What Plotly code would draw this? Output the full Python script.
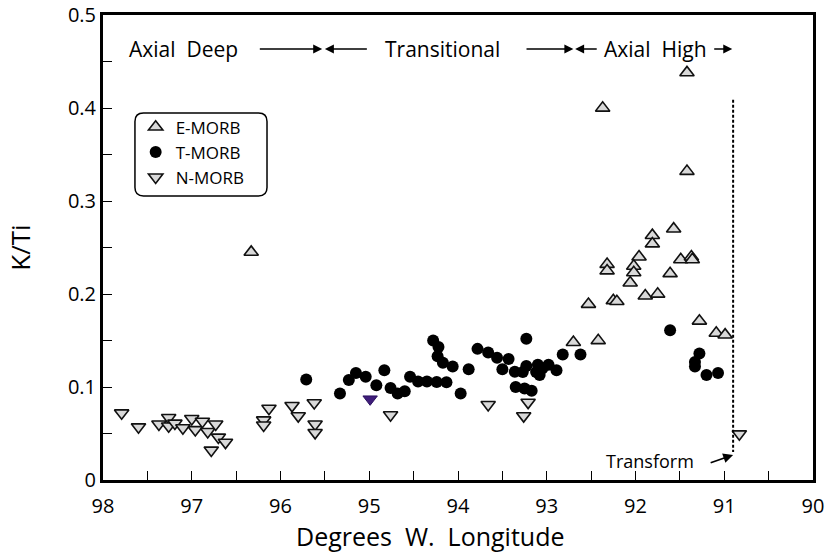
import plotly.graph_objects as go

# ---- data: longitude (degrees W) and K/Ti ratio ----
e_morb_lon = [96.33, 92.37, 91.42, 91.42, 91.57, 91.81, 91.81, 91.96, 92.02, 92.02,
              91.49, 91.37, 91.36, 92.32, 92.32, 91.61, 92.06, 91.89, 91.75, 92.25,
              92.21, 92.53, 91.28, 91.09, 90.99, 92.42, 92.70]
e_morb_kti = [0.245, 0.400, 0.438, 0.332, 0.270, 0.263, 0.254, 0.240, 0.230, 0.223,
              0.237, 0.240, 0.237, 0.232, 0.225, 0.222, 0.212, 0.198, 0.200, 0.193,
              0.192, 0.189, 0.171, 0.158, 0.156, 0.150, 0.148]

t_morb_lon = [95.71, 95.33, 95.23, 95.15, 95.04, 94.92, 94.83, 94.76, 94.68, 94.60,
              94.54, 94.45, 94.35, 94.24, 94.13, 94.28, 94.22, 94.23, 94.17, 94.06,
              93.97, 93.88, 93.78, 93.66, 93.56, 93.43, 93.50, 93.36, 93.23, 93.23,
              93.27, 93.10, 92.98, 93.08, 92.89, 93.35, 93.25, 93.17, 93.12, 93.05,
              92.82, 92.62, 91.61, 91.28, 91.33, 91.33, 91.20, 91.07]
t_morb_kti = [0.108, 0.093, 0.1075, 0.115, 0.111, 0.102, 0.118, 0.099, 0.093, 0.0955,
              0.111, 0.106, 0.106, 0.1055, 0.105, 0.150, 0.143, 0.133, 0.126, 0.122,
              0.093, 0.119, 0.141, 0.137, 0.1315, 0.130, 0.119, 0.1165, 0.152, 0.1225,
              0.116, 0.124, 0.124, 0.113, 0.118, 0.100, 0.0985, 0.096, 0.116, 0.120,
              0.135, 0.135, 0.161, 0.136, 0.127, 0.122, 0.113, 0.115]

n_morb_lon = [97.79, 97.60, 97.37, 97.26, 97.26, 97.19, 97.10, 97.00, 96.96, 96.88,
              96.82, 96.73, 96.70, 96.78, 96.62, 96.19, 96.19, 96.13, 95.87, 95.80,
              95.62, 95.61, 95.61, 94.76, 93.66, 93.21, 93.26, 90.83]
n_morb_kti = [0.072, 0.057, 0.060, 0.067, 0.058, 0.061, 0.056, 0.066, 0.054, 0.063,
              0.052, 0.060, 0.046, 0.032, 0.0405, 0.0645, 0.059, 0.077, 0.080, 0.069,
              0.083, 0.060, 0.051, 0.070, 0.081, 0.0835, 0.069, 0.0495]

# single highlighted N-MORB sample
n_morb_hl_lon = [94.99]
n_morb_hl_kti = [0.087]

# ---- axis ticks ----
x_tick_vals = [98, 97.5, 97, 96.5, 96, 95.5, 95, 94.5, 94, 93.5, 93, 92.5, 92, 91.5, 91, 90.5, 90]
x_tick_text = ["98", "", "97", "", "96", "", "95", "", "94", "", "93", "", "92", "", "91", "", "90"]
y_tick_vals = [0, 0.05, 0.1, 0.15, 0.2, 0.25, 0.3, 0.35, 0.4, 0.45, 0.5]
y_tick_text = ["0", "", "0.1", "", "0.2", "", "0.3", "", "0.4", "", "0.5"]

FONT = "Open Sans"
GRAY = "#d9d9d9"
EDGE = "#111111"

fig = go.Figure()

fig.add_trace(go.Scatter(
    x=e_morb_lon, y=e_morb_kti, mode="markers", name="E-MORB",
    marker=dict(symbol="triangle-up", size=12.5, color=GRAY, line=dict(color=EDGE, width=1.6)),
))
fig.add_trace(go.Scatter(
    x=t_morb_lon, y=t_morb_kti, mode="markers", name="T-MORB",
    marker=dict(symbol="circle", size=12, color="black", line=dict(width=0)),
))
fig.add_trace(go.Scatter(
    x=n_morb_lon, y=n_morb_kti, mode="markers", name="N-MORB",
    marker=dict(symbol="triangle-down", size=12.5, color=GRAY, line=dict(color=EDGE, width=1.6)),
))
fig.add_trace(go.Scatter(
    x=n_morb_hl_lon, y=n_morb_hl_kti, mode="markers", showlegend=False,
    marker=dict(symbol="triangle-down", size=12.5, color="#3f1d7a", line=dict(color="#2a1060", width=1)),
))

# transform boundary
fig.add_shape(type="line", xref="x", yref="y", x0=90.9, x1=90.9, y0=0.409, y1=0.03,
              line=dict(color="black", width=2, dash="3px,2px"))

# rounded legend frame (paper coordinates)
lx0, lx1, ly0, ly1 = 0.045, 0.231, 0.611, 0.789
rx, ry = 0.012, 0.018
path = (f"M{lx0+rx},{ly0} L{lx1-rx},{ly0} Q{lx1},{ly0} {lx1},{ly0+ry} "
        f"L{lx1},{ly1-ry} Q{lx1},{ly1} {lx1-rx},{ly1} L{lx0+rx},{ly1} "
        f"Q{lx0},{ly1} {lx0},{ly1-ry} L{lx0},{ly0+ry} Q{lx0},{ly0} {lx0+rx},{ly0} Z")
fig.add_shape(type="path", xref="paper", yref="paper", path=path,
              line=dict(color="black", width=1.5), fillcolor="rgba(0,0,0,0)")

annotations = []
y_lbl = 0.4634
# region labels
for txt, xc in [("Axial  Deep", 97.09), ("Transitional", 94.18), ("Axial  High", 91.77)]:
    annotations.append(dict(x=xc, y=y_lbl, xref="x", yref="y", text=txt, showarrow=False,
                            font=dict(family=FONT, size=21, color="black")))
# region arrows (head, tail)
for head, tail in [(95.53, 96.25), (95.50, 95.01), (92.70, 93.245), (92.68, 92.42), (90.91, 91.13)]:
    annotations.append(dict(x=head, y=y_lbl, ax=tail, ay=y_lbl, xref="x", yref="y",
                            axref="x", ayref="y", text="", showarrow=True,
                            arrowhead=2, arrowsize=1.2, arrowwidth=1.5, arrowcolor="black"))
# transform label and arrow
annotations.append(dict(x=91.84, y=0.0205, xref="x", yref="y", text="Transform", showarrow=False,
                        font=dict(family=FONT, size=18, color="black")))
annotations.append(dict(x=90.9, y=0.027, ax=91.17, ay=0.018, xref="x", yref="y",
                        axref="x", ayref="y", text="", showarrow=True,
                        arrowhead=2, arrowsize=1.1, arrowwidth=1.8, arrowcolor="black"))
# axis titles
annotations.append(dict(x=0.46, y=-0.12, xref="paper", yref="paper", text="Degrees  W.  Longitude",
                        showarrow=False, xanchor="center", yanchor="middle",
                        font=dict(family=FONT, size=25, color="black")))
annotations.append(dict(x=-0.118, y=0.5, xref="paper", yref="paper", text="K/Ti", textangle=-90,
                        showarrow=False, xanchor="center", yanchor="middle",
                        font=dict(family=FONT, size=26, color="black")))

axis_common = dict(showline=True, linewidth=3, linecolor="black", mirror=True,
                   ticks="inside", ticklen=9, tickwidth=1.3, tickcolor="black",
                   showgrid=False, zeroline=False, automargin=False,
                   tickfont=dict(family=FONT, size=20, color="black"))

fig.update_layout(
    width=825, height=554, autosize=False,
    margin=dict(l=103, r=12, t=15, b=74),
    paper_bgcolor="white", plot_bgcolor="white",
    showlegend=True,
    legend=dict(x=0.046, y=0.797, xanchor="left", yanchor="top", bgcolor="rgba(0,0,0,0)",
                borderwidth=0, font=dict(family=FONT, size=17, color="black"),
                itemwidth=30, tracegroupgap=0),
    xaxis=dict(range=[98, 90], tickvals=x_tick_vals, ticktext=x_tick_text,
               ticklabelstandoff=6, **axis_common),
    yaxis=dict(range=[0, 0.5], tickvals=y_tick_vals, ticktext=y_tick_text, **axis_common),
    annotations=annotations,
)

fig.write_html("out.html")
